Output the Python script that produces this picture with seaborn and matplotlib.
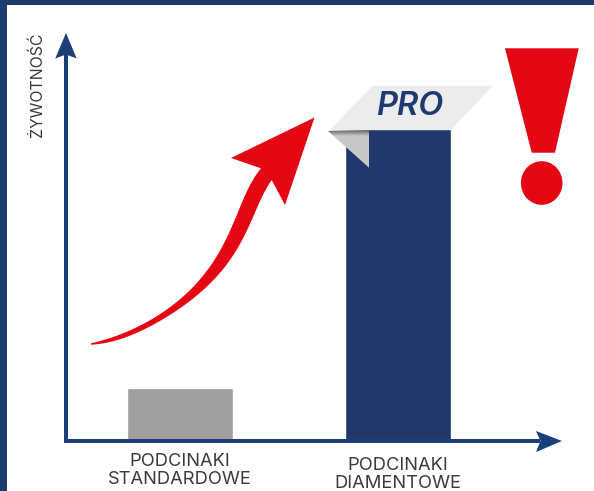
import matplotlib
matplotlib.use("Agg")
import matplotlib.pyplot as plt
import matplotlib.transforms as mtransforms
from matplotlib.patches import Polygon, Ellipse, Rectangle
import numpy as np
import pandas as pd
import seaborn as sns

# Chart data
categories = ["PODCINAKI\nSTANDARDOWE", "PODCINAKI\nDIAMENTOWE"]
lifetime = [55, 314]
y_title = "ŻYWOTNOŚĆ"
badge_text = "PRO"

# Colours
NAVY_BAR = "#20386a"
NAVY_AXIS = "#1b4079"
FRAME = "#1c3c70"
GREY_BAR = "#9f9f9f"
RED = "#e30613"
TEXT = "#3a3a3a"

W, H = 594, 491
BASE = 443

sns.set_theme(style="white")
plt.rcParams["font.family"] = ["Inter", "DejaVu Sans"]

fig = plt.figure(figsize=(W / 100, H / 100), dpi=100, facecolor="white")
ax = fig.add_axes([0, (H - BASE) / H, 1, BASE / H])

df = pd.DataFrame({"kategoria": categories, "zywotnosc": lifetime})
sns.barplot(data=df, x="kategoria", y="zywotnosc", hue="kategoria",
            palette=[GREY_BAR, NAVY_BAR], width=106 / 218, saturation=1,
            legend=False, ax=ax, zorder=2)

ax.set_xlim(-180 / 218, (W - 180) / 218)
ax.set_ylim(0, BASE)
for s in ax.spines.values():
    s.set_visible(False)
ax.set_yticks([])
ax.set_xlabel("")
ax.patch.set_alpha(0)

ax.set_ylabel(y_title, fontsize=11.4, color=TEXT)
ax.yaxis.set_label_coords(37 / W, (BASE - 85) / BASE)
ax.yaxis.label.set_verticalalignment("center")

ax.tick_params(axis="x", length=0, labelsize=13.2, labelcolor=TEXT)
for tick, pad in zip(ax.xaxis.get_major_ticks(), [7, 10]):
    tick.set_pad(pad)
for lab in ax.get_xticklabels():
    lab.set_linespacing(1.08)

# Everything decorative is placed in image pixels, origin at the top left
px = mtransforms.Affine2D().scale(1 / W, -1 / H).translate(0, 1) + fig.transFigure


def add(patch, z):
    patch.set_transform(px)
    patch.set_zorder(z)
    patch.set_clip_on(False)
    patch.set_linewidth(0)
    ax.add_patch(patch)
    return patch


def fair_curve(points, degree=5, samples=120):
    """Smooth outline through traced points, with its ends held in place."""
    p = np.asarray(points, dtype=float)
    chord = np.r_[0, np.cumsum(np.hypot(*np.diff(p, axis=0).T))]
    t = chord / chord[-1]
    weights = np.ones(len(p))
    weights[[0, -1]] = 30
    u = np.linspace(0, 1, samples)
    return np.column_stack([np.polyval(np.polyfit(t, p[:, k], degree, w=weights), u)
                            for k in (0, 1)])


# Page frame
add(Rectangle((0, 0), W, 4.7, color=FRAME), 1)
add(Rectangle((0, 0), 7, H, color=FRAME), 1)

# Axis arrows
add(Rectangle((64, 52), 4, 391, color=NAVY_AXIS), 5)
add(Polygon([(66, 33), (76.7, 58.5), (66, 54.5), (55.2, 58.5)], color=NAVY_AXIS), 5)
add(Rectangle((64, 439), 476, 4, color=NAVY_AXIS), 5)
add(Polygon([(562, 441), (536, 431), (540.5, 441), (536, 452)], color=NAVY_AXIS), 5)

# Rising red arrow: shaft edges as fair curves, then the straight head
upper_edge = [(91, 343.3), (118.3, 335), (145, 323.3), (168.3, 308.3), (188.3, 291.7),
              (205, 273.3), (220, 250), (231.7, 228.3), (240, 206.7), (248.3, 188.3),
              (261, 168.3)]
lower_edge = [(271.7, 180), (261.7, 196.7), (251.7, 220), (241.7, 241.7), (226.7, 265),
              (209, 284), (190, 300), (168.3, 316.7), (145, 329.3), (118.3, 339.3),
              (91, 344.7)]
head = [(231, 158), (314.5, 117.5), (285, 205)]
outline = np.vstack([fair_curve(upper_edge), head, fair_curve(lower_edge)])
add(Polygon(outline, closed=True, facecolor=RED), 4)

# Exclamation mark
add(Polygon([(505, 48.3), (578.7, 48.3), (555, 152.7), (531.7, 152.7)], color=RED), 4)
add(Ellipse((541.7, 183), 41.6, 43.6, color=RED), 4)

# PRO ribbon and its folded corner
add(Polygon([(372.3, 86), (492.7, 86), (451, 130), (369, 130), (369, 131.5), (328.3, 131.5)],
            color="#ececec"), 6)
fold = add(Polygon([(328, 131), (369, 130), (369, 167.7)], color="#c8c8c8"), 6)
rgba = np.zeros((32, 1, 4))
rgba[..., 3] = np.linspace(0.6, 0, 32).reshape(-1, 1)
img = ax.imshow(rgba, extent=(326, 370, 136, 129.5), transform=px, zorder=6.5,
                aspect="auto", interpolation="bilinear")
img.set_clip_path(fold)
ax.set_xlim(-180 / 218, (W - 180) / 218)
ax.set_ylim(0, BASE)

ax.text(410, 106.5, badge_text, transform=px, ha="center", va="center", fontsize=23.5,
        fontweight="semibold", fontstyle="italic", color="#1f3a72", zorder=7)

fig.savefig("out.png", dpi=100)
